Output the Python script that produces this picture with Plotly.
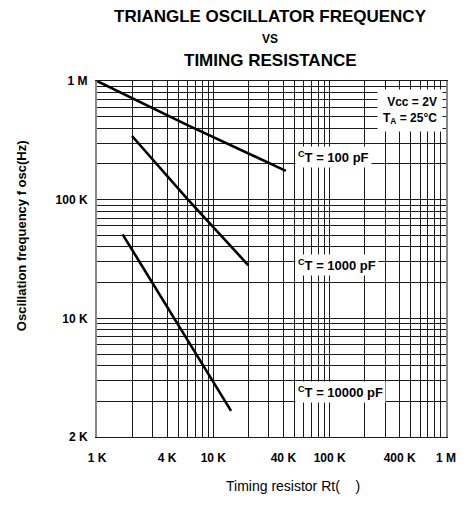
import plotly.graph_objects as go

# values (timing resistor in ohm, frequency in Hz)
rt_100pf = [1000, 6000, 42000]
f_100pf = [1000000, 425000, 175000]

rt_1000pf = [2000, 6000, 20000]
f_1000pf = [344000, 101000, 28000]

rt_10000pf = [1660, 6000, 14200]
f_10000pf = [51000, 6600, 1660]

x_tickvals = [1e3, 4e3, 1e4, 4e4, 1e5, 4e5, 1e6]
x_ticktext = ["1 K", "4 K", "10 K", "40 K", "100 K", "400 K", "1 M"]
y_tickvals = [1e3, 1e4, 1e5, 1e6]
y_ticktext = ["2 K", "10 K", "100 K", "1 M"]

FONT = "Liberation Sans, Arial, sans-serif"
OFF = 8  # page body margin shifts the figure by 8px
W, H = 467 - OFF, 522 - OFF
L, R, T, B = 97 - OFF, 11, 81 - OFF, 85


def paper_x(px):
    return (px - OFF - L) / (W - L - R)


def paper_y(py):
    return (H - B - (py - OFF)) / (H - T - B)


# log-paper minor grid (2..9 in every decade)
x_minor = [m * 10 ** d for d in (3, 4, 5) for m in range(2, 10)]
y_minor = [m * 10 ** d for d in (3, 4, 5) for m in range(2, 10)]

fig = go.Figure()

for rt, f in [(rt_100pf, f_100pf), (rt_1000pf, f_1000pf), (rt_10000pf, f_10000pf)]:
    fig.add_trace(go.Scatter(
        x=rt, y=f, mode='lines',
        line=dict(color='black', width=2.6),
        showlegend=False
    ))

grid = dict(gridcolor='#1a1a1a', gridwidth=1)

fig.update_xaxes(
    type='log', range=[3, 6],
    tickvals=x_tickvals, ticktext=x_ticktext,
    ticks='', ticklabelstandoff=10,
    tickfont=dict(family=FONT, size=12, color='black', weight='bold'),
    showline=True, linecolor='#1a1a1a', linewidth=1, mirror=True,
    minor=dict(tickvals=x_minor, showgrid=True, **grid),
    zeroline=False, **grid
)
fig.update_yaxes(
    type='log', range=[3, 6],
    tickvals=y_tickvals, ticktext=y_ticktext,
    ticks='', ticklabelstandoff=5,
    tickfont=dict(family=FONT, size=12, color='black', weight='bold'),
    showline=True, linecolor='#888888', linewidth=2, mirror=True,
    minor=dict(tickvals=y_minor, showgrid=True, **grid),
    zeroline=False, **grid
)

# titles
title_lines = [
    ("TRIANGLE OSCILLATOR FREQUENCY", 17, 16.7),
    ("VS", 12, 39),
    ("TIMING RESISTANCE", 17, 60),
]
for text, size, py in title_lines:
    fig.add_annotation(
        text=text, xref='paper', yref='paper',
        x=paper_x(275), y=paper_y(py), xanchor='center', yanchor='middle',
        showarrow=False,
        font=dict(family=FONT, size=size, color='black', weight='bold')
    )

fig.add_annotation(
    text="Oscillation frequency f osc(Hz)", textangle=-90,
    xref='paper', yref='paper', x=paper_x(19), y=paper_y(236),
    xanchor='center', yanchor='middle', showarrow=False,
    font=dict(family=FONT, size=13, color='black', weight='bold')
)
fig.add_annotation(
    text="Timing resistor Rt(\u00a0\u00a0\u00a0\u00a0)",
    xref='paper', yref='paper', x=paper_x(228), y=paper_y(486),
    xanchor='left', yanchor='middle', showarrow=False,
    font=dict(family=FONT, size=14, color='black')
)

# curve labels and conditions box
labels = [
    ("<sup>C</sup>T = 100 pF", 301, 157),
    ("<sup>C</sup>T = 1000 pF", 301, 265),
    ("<sup>C</sup>T = 10000 pF", 301, 392),
]
for text, px, py in labels:
    fig.add_annotation(
        text=text, xref='paper', yref='paper',
        x=paper_x(px), y=paper_y(py), xanchor='left', yanchor='middle',
        showarrow=False, bgcolor='white', borderpad=2,
        font=dict(family=FONT, size=13, color='black', weight='bold')
    )

fig.add_annotation(
    text="Vcc = 2V<br>T<sub>A</sub> = 25°C",
    xref='paper', yref='paper', x=paper_x(453), y=paper_y(110),
    xanchor='right', yanchor='middle', align='right',
    showarrow=False, bgcolor='white', borderpad=5,
    font=dict(family=FONT, size=12, color='black', weight='bold')
)

fig.update_layout(
    width=W, height=H,
    margin=dict(l=L, r=R, t=T, b=B),
    paper_bgcolor='white',
    plot_bgcolor='white',
    showlegend=False,
    font=dict(family=FONT, color='black')
)

fig.write_html("out.html")
